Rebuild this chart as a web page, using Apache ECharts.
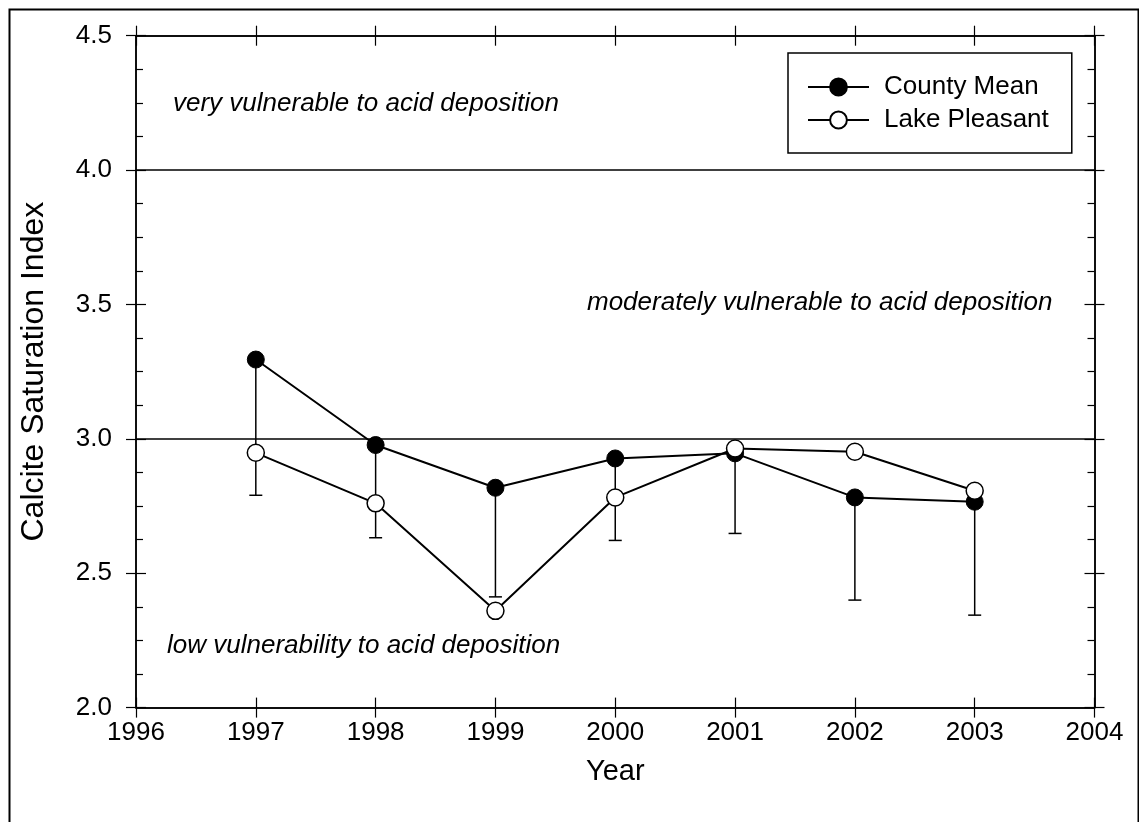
<!DOCTYPE html>
<html>
<head>
<meta charset="utf-8">
<script src="https://cdn.jsdelivr.net/npm/echarts@6/dist/echarts.min.js"></script>
<style>
html,body{margin:0;padding:0;background:#fff;}
#chart{width:1139px;height:822px;}
</style>
</head>
<body>
<div id="chart"></div>
<script>
// ---- data ----
const years = [1997, 1998, 1999, 2000, 2001, 2002, 2003];
const countyMean = [3.295, 2.977, 2.818, 2.927, 2.946, 2.782, 2.766];
const lakePleasant = [2.948, 2.760, 2.360, 2.782, 2.964, 2.952, 2.807];
const countyLower = [2.790, 2.632, 2.412, 2.622, 2.648, 2.400, 2.344];
const refLevels = [3.0, 4.0];
const xRange = [1996, 2004];
const yRange = [2.0, 4.5];
const seriesNames = ['County Mean', 'Lake Pleasant'];
const annotations = [
  {text: 'very vulnerable to acid deposition', x: 173, y: 104},
  {text: 'moderately vulnerable to acid deposition', x: 587, y: 303},
  {text: 'low vulnerability to acid deposition', x: 167, y: 646}
];

const FONT = '"Liberation Sans", Arial, Helvetica, sans-serif';
const chart = echarts.init(document.getElementById('chart'), null, {renderer: 'canvas'});

const gridRect = {left: 136, right: 44.5, top: 35.7, bottom: 114.4};
const lineCol = '#000';

function xAx(gridIndex, position, inside, extra) {
  return Object.assign({
    type: 'value', gridIndex, position, min: xRange[0], max: xRange[1], interval: 1,
    axisLine: {show: true, onZero: false, lineStyle: {color: lineCol, width: 1.5}},
    axisTick: {show: true, inside, length: 10, lineStyle: {color: lineCol, width: 1.2}},
    axisLabel: {show: false},
    splitLine: {show: false}
  }, extra || {});
}
function yAx(gridIndex, position, inside, extra) {
  return Object.assign({
    type: 'value', gridIndex, position, min: yRange[0], max: yRange[1], interval: 0.5,
    axisLine: {show: true, onZero: false, lineStyle: {color: lineCol, width: 1.5}},
    axisTick: {show: true, inside, length: 10, lineStyle: {color: lineCol, width: 1.2}},
    axisLabel: {show: false},
    splitLine: {show: false}
  }, extra || {});
}

const errData = years.map((y, i) => [y, countyMean[i], countyLower[i]]);

const option = {
  backgroundColor: '#fff',
  animation: false,
  textStyle: {fontFamily: FONT, color: '#000'},
  grid: [
    Object.assign({}, gridRect),
    Object.assign({}, gridRect)
  ],
  xAxis: [
    xAx(0, 'bottom', false, {
      axisLabel: {show: true, fontSize: 26, color: '#000', fontFamily: FONT, margin: 12,
                  formatter: v => String(Math.round(v))},
      name: 'Year', nameLocation: 'middle', nameGap: 50,
      nameTextStyle: {fontSize: 29, color: '#000', fontFamily: FONT}
    }),
    xAx(0, 'top', false),
    xAx(1, 'bottom', true),
    xAx(1, 'top', true)
  ],
  yAxis: [
    yAx(0, 'left', false, {
      axisLabel: {show: true, fontSize: 26, color: '#000', fontFamily: FONT, margin: 24,
                  formatter: v => v.toFixed(1)},
      name: 'Calcite Saturation Index', nameLocation: 'middle', nameGap: 86, nameRotate: 90,
      nameTextStyle: {fontSize: 32, color: '#000', fontFamily: FONT}
    }),
    yAx(0, 'right', false),
    yAx(1, 'left', true, {minorTick: {show: true, splitNumber: 4, length: 7, lineStyle: {color: lineCol, width: 1.2}}}),
    yAx(1, 'right', true, {minorTick: {show: true, splitNumber: 4, length: 7, lineStyle: {color: lineCol, width: 1.2}}})
  ],
  legend: {
    show: true, orient: 'vertical', left: 788, top: 53,
    data: seriesNames,
    borderColor: '#000', borderWidth: 1.5, borderRadius: 0,
    padding: [21, 23, 20, 19],
    itemWidth: 61, itemHeight: 21, itemGap: 7,
    textStyle: {fontSize: 26, color: '#000', fontFamily: FONT, padding: [0, 0, 0, 10]},
    selectedMode: false
  },
  series: [
    {
      type: 'custom', name: 'errorbars', xAxisIndex: 0, yAxisIndex: 0, z: 1,
      data: errData,
      encode: {x: 0, y: [1, 2]},
      renderItem: function (params, api) {
        const x = api.value(0), hi = api.value(1), lo = api.value(2);
        const pHi = api.coord([x, hi]);
        const pLo = api.coord([x, lo]);
        const hw = 6.5;
        return {
          type: 'group',
          children: [
            {type: 'line', shape: {x1: pHi[0], y1: pHi[1], x2: pLo[0], y2: pLo[1]}, style: {stroke: '#000', lineWidth: 1.5}},
            {type: 'line', shape: {x1: pLo[0] - hw, y1: pLo[1], x2: pLo[0] + hw, y2: pLo[1]}, style: {stroke: '#000', lineWidth: 1.5}}
          ]
        };
      },
      markLine: {
        silent: true, symbol: ['none', 'none'],
        label: {show: false},
        lineStyle: {color: '#000', width: 1.5, type: 'solid'},
        data: refLevels.map(v => ({yAxis: v}))
      }
    },
    {
      type: 'line', name: seriesNames[0], xAxisIndex: 0, yAxisIndex: 0, z: 3,
      data: years.map((y, i) => [y, countyMean[i]]),
      symbol: 'circle', symbolSize: 17,
      lineStyle: {color: '#000', width: 2},
      itemStyle: {color: '#000', borderColor: '#000', borderWidth: 1},
      emphasis: {disabled: true}
    },
    {
      type: 'line', name: seriesNames[1], xAxisIndex: 0, yAxisIndex: 0, z: 4,
      data: years.map((y, i) => [y, lakePleasant[i]]),
      symbol: 'circle', symbolSize: 17,
      lineStyle: {color: '#000', width: 2},
      itemStyle: {color: '#fff', borderColor: '#000', borderWidth: 1.5},
      emphasis: {disabled: true}
    }
  ],
  graphic: [
    {
      type: 'rect', left: 7, top: 7, silent: true, z: 100,
      shape: {x: 0, y: 0, width: 1129, height: 840},
      style: {fill: 'none', stroke: '#000', lineWidth: 2}
    }
  ].concat(annotations.map(a => ({
    type: 'text', x: a.x, y: a.y, silent: true, z: 50,
    style: {text: a.text, font: 'italic 26px ' + FONT, fill: '#000', textAlign: 'left', textVerticalAlign: 'middle'}
  })))
};

chart.setOption(option);
</script>
</body>
</html>
